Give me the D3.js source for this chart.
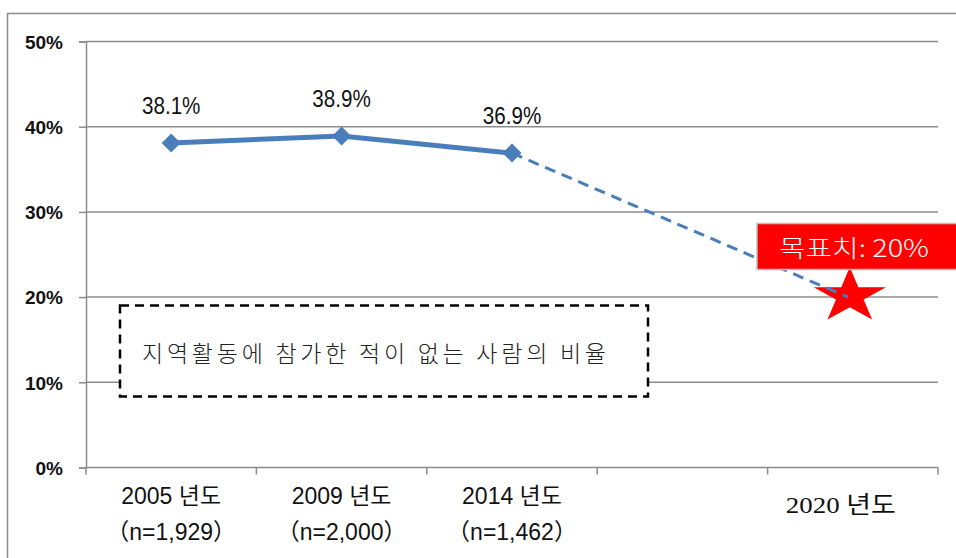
<!DOCTYPE html>
<html>
<head>
<meta charset="utf-8">
<script src="https://cdn.jsdelivr.net/npm/d3@7"></script>
<style>
  html, body { margin: 0; padding: 0; background: #fff; }
  svg { display: block; }
</style>
</head>
<body>
<svg id="chart" width="956" height="558"></svg>
<script>
// ---- data ----
const categories = ["2005 년도", "2009 년도", "2014 년도", "", "2020 년도"];
const sampleSizes = ["（n=1,929）", "（n=2,000）", "（n=1,462）", "", ""];
const values = [38.1, 38.9, 36.9];
const valueLabels = ["38.1%", "38.9%", "36.9%"];
const targetValue = 20;
const targetLabel = "목표치: 20%";
const yTicks = [0, 10, 20, 30, 40, 50];
const yTickLabels = ["0%", "10%", "20%", "30%", "40%", "50%"];
const noteText = "지역활동에 참가한 적이 없는 사람의 비율";

// ---- layout ----
const svg = d3.select("#chart");
const plot = { left: 86, right: 938, top: 41.5, bottom: 467.5 };
const x = d3.scaleBand().domain(d3.range(categories.length)).range([plot.left, plot.right]);
const cx = i => x(i) + x.bandwidth() / 2;
const y = d3.scaleLinear().domain([0, 50]).range([plot.bottom, plot.top]);

const grey = "#8c8c8c";
const blue = "#4a7ebb";
const sans = "'Liberation Sans', Arial, 'Noto Sans CJK KR', sans-serif";

// outer border
svg.append("rect")
  .attr("x", 7.5).attr("y", 13.5).attr("width", 1000).attr("height", 600)
  .attr("fill", "none").attr("stroke", grey).attr("stroke-width", 1.5);

// gridlines
svg.append("g").selectAll("line").data(yTicks.filter(t => t > 0)).join("line")
  .attr("x1", plot.left).attr("x2", plot.right)
  .attr("y1", d => y(d)).attr("y2", d => y(d))
  .attr("stroke", grey).attr("stroke-width", 1.5);

// y axis
const yAxis = d3.axisLeft(y).tickValues(yTicks).tickSize(7).tickPadding(16)
  .tickFormat((d, i) => yTickLabels[i]);
const gy = svg.append("g").attr("transform", `translate(${plot.left},0)`).call(yAxis);
gy.select(".domain").attr("stroke", grey).attr("stroke-width", 1.5);
gy.selectAll(".tick line").attr("stroke", grey).attr("stroke-width", 1.5);
gy.selectAll(".tick text")
  .attr("font-family", "'Liberation Sans', Arial, sans-serif")
  .attr("font-size", 19).attr("font-weight", "bold").attr("fill", "#111")
  .attr("dy", "0.36em");

// x axis (band boundaries as ticks)
svg.append("line")
  .attr("x1", plot.left).attr("x2", plot.right)
  .attr("y1", plot.bottom).attr("y2", plot.bottom)
  .attr("stroke", grey).attr("stroke-width", 1.5);
const bounds = d3.range(categories.length + 1).map(i => i < categories.length ? x(i) : plot.right);
svg.append("g").selectAll("line").data(bounds).join("line")
  .attr("x1", d => d).attr("x2", d => d)
  .attr("y1", plot.bottom).attr("y2", plot.bottom + 7)
  .attr("stroke", grey).attr("stroke-width", 1.5);

// category labels
const lab = svg.append("g");
categories.forEach((c, i) => {
  if (!c) return;
  if (i === 4) {
    lab.append("text")
      .attr("x", cx(i) - 67).attr("y", 513)
      .attr("font-family", "'Liberation Serif', 'Noto Sans CJK KR', serif")
      .attr("font-size", 24).attr("fill", "#111")
      .attr("textLength", 110).attr("lengthAdjust", "spacingAndGlyphs")
      .text(c);
  } else {
    lab.append("text")
      .attr("x", cx(i)).attr("y", 504)
      .attr("text-anchor", "middle")
      .attr("font-family", sans).attr("font-size", 23).attr("fill", "#111")
      .text(c);
  }
  if (sampleSizes[i]) {
    lab.append("text")
      .attr("x", cx(i)).attr("y", 540)
      .attr("text-anchor", "middle")
      .attr("font-family", sans).attr("font-size", 23).attr("fill", "#111")
      .text(sampleSizes[i]);
  }
});

// note box
svg.append("rect")
  .attr("x", 120).attr("y", 305.5).attr("width", 528).attr("height", 91)
  .attr("fill", "#fff").attr("stroke", "#000").attr("stroke-width", 2.5)
  .attr("stroke-dasharray", "9,6");
svg.append("text")
  .attr("x", 142).attr("y", 362)
  .attr("font-family", "'Noto Sans CJK KR', sans-serif")
  .attr("font-size", 23).attr("font-weight", 300).attr("fill", "#222")
  .attr("textLength", 464).attr("lengthAdjust", "spacing")
  .text(noteText);

// star at target
const starPts = d3.range(10).map(k => {
  const a = -Math.PI / 2 + k * Math.PI / 5;
  const r = k % 2 === 0 ? 1 : 0.382;
  return [Math.cos(a) * r * 38, Math.sin(a) * r * 29];
});
svg.append("path")
  .attr("d", d3.line()(starPts) + "Z")
  .attr("transform", `translate(${cx(4) - 3},${y(targetValue) - 1})`)
  .attr("fill", "#ff0000");

// dashed projection
svg.append("line")
  .attr("x1", cx(2)).attr("y1", y(values[2]))
  .attr("x2", cx(4) - 5).attr("y2", y(targetValue))
  .attr("stroke", blue).attr("stroke-width", 3)
  .attr("stroke-dasharray", "11,7");

// solid series line
svg.append("path")
  .datum(values)
  .attr("d", d3.line().x((d, i) => cx(i)).y(d => y(d)))
  .attr("fill", "none").attr("stroke", blue).attr("stroke-width", 5)
  .attr("stroke-linejoin", "round");

// markers
svg.append("g").selectAll("path").data(values).join("path")
  .attr("d", "M0,-9.5L9.5,0L0,9.5L-9.5,0Z")
  .attr("transform", (d, i) => `translate(${cx(i)},${y(d)})`)
  .attr("fill", blue);

// value labels (condensed)
svg.append("g").selectAll("text").data(values).join("text")
  .attr("transform", (d, i) => `translate(${cx(i)},${y(d) - 29}) scale(0.86,1)`)
  .attr("text-anchor", "middle")
  .attr("font-family", sans).attr("font-size", 24).attr("fill", "#111")
  .text((d, i) => valueLabels[i]);

// target label box
svg.append("rect")
  .attr("x", 757).attr("y", 223.5).attr("width", 220).attr("height", 46)
  .attr("fill", "#ff0000").attr("stroke", "#bdbdbd").attr("stroke-width", 1.5);
svg.append("text")
  .attr("x", 779).attr("y", 257)
  .attr("font-family", "'Noto Sans CJK KR', sans-serif")
  .attr("font-size", 24).attr("font-weight", 300).attr("fill", "#fff")
  .attr("textLength", 150).attr("lengthAdjust", "spacingAndGlyphs")
  .text(targetLabel);
</script>
</body>
</html>
